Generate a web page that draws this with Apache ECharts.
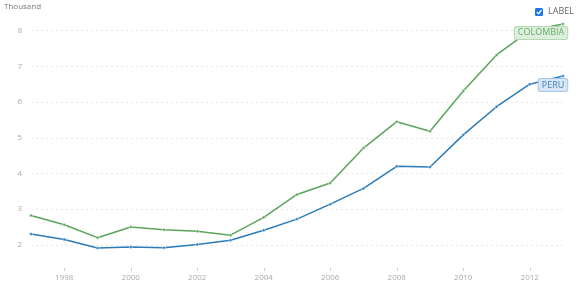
<!DOCTYPE html>
<html>
<head>
<meta charset="utf-8">
<script src="https://cdn.jsdelivr.net/npm/echarts@6/dist/echarts.min.js"></script>
<style>
html,body{margin:0;padding:0;background:#fff;}
#chart{width:582px;height:298px;}
</style>
</head>
<body>
<div id="chart"></div>
<script>
var years = ['1997','1998','1999','2000','2001','2002','2003','2004','2005','2006','2007','2008','2009','2010','2011','2012','2013'];
var colombia = [2.82, 2.56, 2.20, 2.50, 2.42, 2.38, 2.27, 2.77, 3.41, 3.73, 4.71, 5.45, 5.18, 6.31, 7.32, 8.00, 8.19];
var peru = [2.30, 2.15, 1.91, 1.94, 1.92, 2.01, 2.13, 2.41, 2.72, 3.14, 3.58, 4.20, 4.18, 5.08, 5.87, 6.50, 6.73];

var myChart = echarts.init(document.getElementById('chart'));

function lastLabel(data, name, color, bg, border) {
	return data.map(function (v, i) {
		if (i < data.length - 1) return v;
		return {
			value: v,
			label: {
				show: true,
				position: 'left',
				distance: 4,
				offset: [10, 9],
				formatter: name,
				color: color,
				fontSize: 9,
				fontFamily: 'Open Sans',
				backgroundColor: bg,
				borderColor: border,
				borderWidth: 1,
				borderRadius: 2,
				padding: [2, 3, 1, 3]
			}
		};
	});
}

var option = {
	animation: false,
	title: {
		text: 'Thousand',
		left: 4,
		top: 3,
		padding: 0,
		textStyle: { fontSize: 8, fontWeight: 'normal', color: '#777', fontFamily: 'Open Sans' }
	},
	grid: { left: 31, right: 19, top: 20, bottom: 30 },
	xAxis: {
		type: 'category',
		data: years,
		boundaryGap: false,
		axisLine: { show: false },
		axisTick: {
			show: true,
			length: 3,
			lineStyle: { color: '#ccc' },
			interval: function (i) { return i % 2 === 1; }
		},
		axisLabel: {
			interval: function (i) { return i % 2 === 1; },
			color: '#aaa',
			fontSize: 8,
			fontFamily: 'Open Sans',
			margin: 6
		}
	},
	yAxis: {
		type: 'value',
		min: 1.35,
		max: 8.3,
		axisLine: { show: false },
		axisTick: { show: false },
		axisLabel: {
			showMinLabel: false,
			showMaxLabel: false,
			color: '#aaa',
			fontSize: 8,
			fontFamily: 'Open Sans',
			margin: 9
		},
		splitLine: {
			showMinLine: false,
			showMaxLine: false,
			lineStyle: { color: '#e8e8e8', type: [2, 3] }
		}
	},
	series: [
		{
			name: 'COLOMBIA',
			type: 'line',
			data: lastLabel(colombia, 'COLOMBIA', '#6aaa6a', '#dcefdc', '#b2d9b2'),
			symbol: 'circle',
			symbolSize: 3,
			itemStyle: { color: '#5ba55b', borderColor: '#fff', borderWidth: 0.5 },
			lineStyle: { color: '#5ba55b', width: 1.5 }
		},
		{
			name: 'PERU',
			type: 'line',
			data: lastLabel(peru, 'PERU', '#4a80b4', '#d6e6f5', '#a5c8e8'),
			symbol: 'circle',
			symbolSize: 3,
			itemStyle: { color: '#2c7bb9', borderColor: '#fff', borderWidth: 0.5 },
			lineStyle: { color: '#2c7bb9', width: 1.5 }
		}
	],
	graphic: [
		{
			type: 'rect',
			shape: { x: 535, y: 8, width: 8, height: 8, r: 1.5 },
			style: { fill: '#1b73e8' }
		},
		{
			type: 'polyline',
			shape: { points: [[536.8, 12], [538.6, 13.8], [541.4, 10]] },
			style: { stroke: '#fff', lineWidth: 1.3, fill: null },
			z: 101
		},
		{
			type: 'text',
			x: 548,
			y: 7,
			style: { text: 'LABEL', fontSize: 9, fill: '#666', fontFamily: 'Open Sans' }
		}
	]
};
myChart.setOption(option);
</script>
</body>
</html>
